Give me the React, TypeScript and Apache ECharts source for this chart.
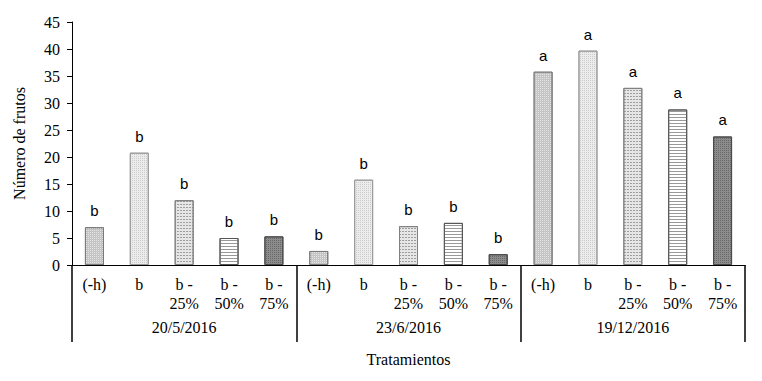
import React, { useEffect, useRef } from "react";
import * as echarts from "echarts";

const dates = ["20/5/2016", "23/6/2016", "19/12/2016"];
const treatments = ["(-h)", "b", "b -\n25%", "b -\n50%", "b -\n75%"];
const values20May = [7.0, 20.8, 12.0, 5.0, 5.3];
const values23Jun = [2.6, 15.8, 7.2, 7.8, 2.0];
const values19Dec = [35.8, 39.7, 32.8, 28.8, 23.8];
const letters20May = ["b", "b", "b", "b", "b"];
const letters23Jun = ["b", "b", "b", "b", "b"];
const letters19Dec = ["a", "a", "a", "a", "a"];
const yTicks = { min: 0, max: 45, interval: 5 };

const styles = [
  { color: "#c4c4c4", borderColor: "#7a7a7a", decal: { symbol: "rect", symbolSize: 1, color: "rgba(255,255,255,0.55)", dashArrayX: [1, 1], dashArrayY: [1, 1] } },
  { color: "#ececec", borderColor: "#9a9a9a", decal: { symbol: "rect", symbolSize: 1, color: "rgba(190,190,190,0.7)", dashArrayX: [1, 1], dashArrayY: [1, 1] } },
  { color: "#e6e6e6", borderColor: "#808080", decal: { symbol: "rect", symbolSize: 1, color: "rgba(140,140,140,0.8)", dashArrayX: [2, 1], dashArrayY: [1, 2] } },
  { color: "#ffffff", borderColor: "#555555", decal: { symbol: "rect", symbolSize: 1, color: "#999999", dashArrayX: [1, 0], dashArrayY: [1, 2] } },
  { color: "#8c8c8c", borderColor: "#4a4a4a", decal: { symbol: "rect", symbolSize: 1, color: "rgba(60,60,60,0.45)", dashArrayX: [1, 1], dashArrayY: [1, 1] } },
];

export default function App() {
  const ref = useRef<HTMLDivElement>(null);
  useEffect(() => {
    if (!ref.current) return;
    const chart = echarts.init(ref.current, null, { renderer: "svg" });
    const groups = [
      { vals: values20May, lets: letters20May },
      { vals: values23Jun, lets: letters23Jun },
      { vals: values19Dec, lets: letters19Dec },
    ];
    const categories: string[] = [];
    const data: any[] = [];
    groups.forEach((g) => {
      treatments.forEach((t, ti) => {
        categories.push(t);
        data.push({
          value: g.vals[ti],
          itemStyle: { color: styles[ti].color, borderColor: styles[ti].borderColor, borderWidth: 1, decal: styles[ti].decal },
          label: { formatter: g.lets[ti] },
        });
      });
    });
    const serif = "Liberation Serif";
    chart.setOption({
      animation: false,
      aria: { enabled: false, decal: { show: false } },
      grid: { left: 72, right: 17, top: 22, bottom: 116 },
      xAxis: [
        {
          type: "category",
          data: categories,
          axisLine: { show: true, lineStyle: { color: "#000", width: 1 } },
          axisTick: { show: false },
          axisLabel: {
            interval: 0,
            margin: 10,
            fontFamily: serif,
            fontSize: 16,
            color: "#000",
            lineHeight: 19,
          },
        },
        {
          type: "category",
          data: dates,
          position: "bottom",
          axisLine: { show: true, lineStyle: { color: "#000", width: 1 } },
          axisTick: { show: true, interval: 0, length: 77, lineStyle: { color: "#000", width: 1.5 } },
          axisLabel: { interval: 0, margin: 54, fontFamily: serif, fontSize: 16, color: "#000" },
          name: "Tratamientos",
          nameLocation: "middle",
          nameGap: 86,
          nameTextStyle: { fontFamily: serif, fontSize: 16, color: "#000" },
        },
      ],
      yAxis: {
        type: "value",
        min: yTicks.min,
        max: yTicks.max,
        interval: yTicks.interval,
        splitLine: { show: false },
        axisLine: { show: true, lineStyle: { color: "#000", width: 1 } },
        axisTick: { show: true, length: 5, lineStyle: { color: "#000" } },
        axisLabel: { fontFamily: serif, fontSize: 16, color: "#000", margin: 12 },
        name: "Número de frutos",
        nameLocation: "middle",
        nameGap: 45,
        nameTextStyle: { fontFamily: serif, fontSize: 16, color: "#000" },
      },
      series: [
        {
          type: "bar",
          xAxisIndex: 0,
          data,
          barWidth: 19,
          label: {
            show: true,
            position: "top",
            distance: 9,
            fontFamily: "Liberation Sans",
            fontSize: 15,
            color: "#000",
          },
        },
      ],
    });
    return () => chart.dispose();
  }, []);
  return <div ref={ref} style={{ width: 762, height: 381, position: "absolute", left: 0, top: 0 }} />;
}
